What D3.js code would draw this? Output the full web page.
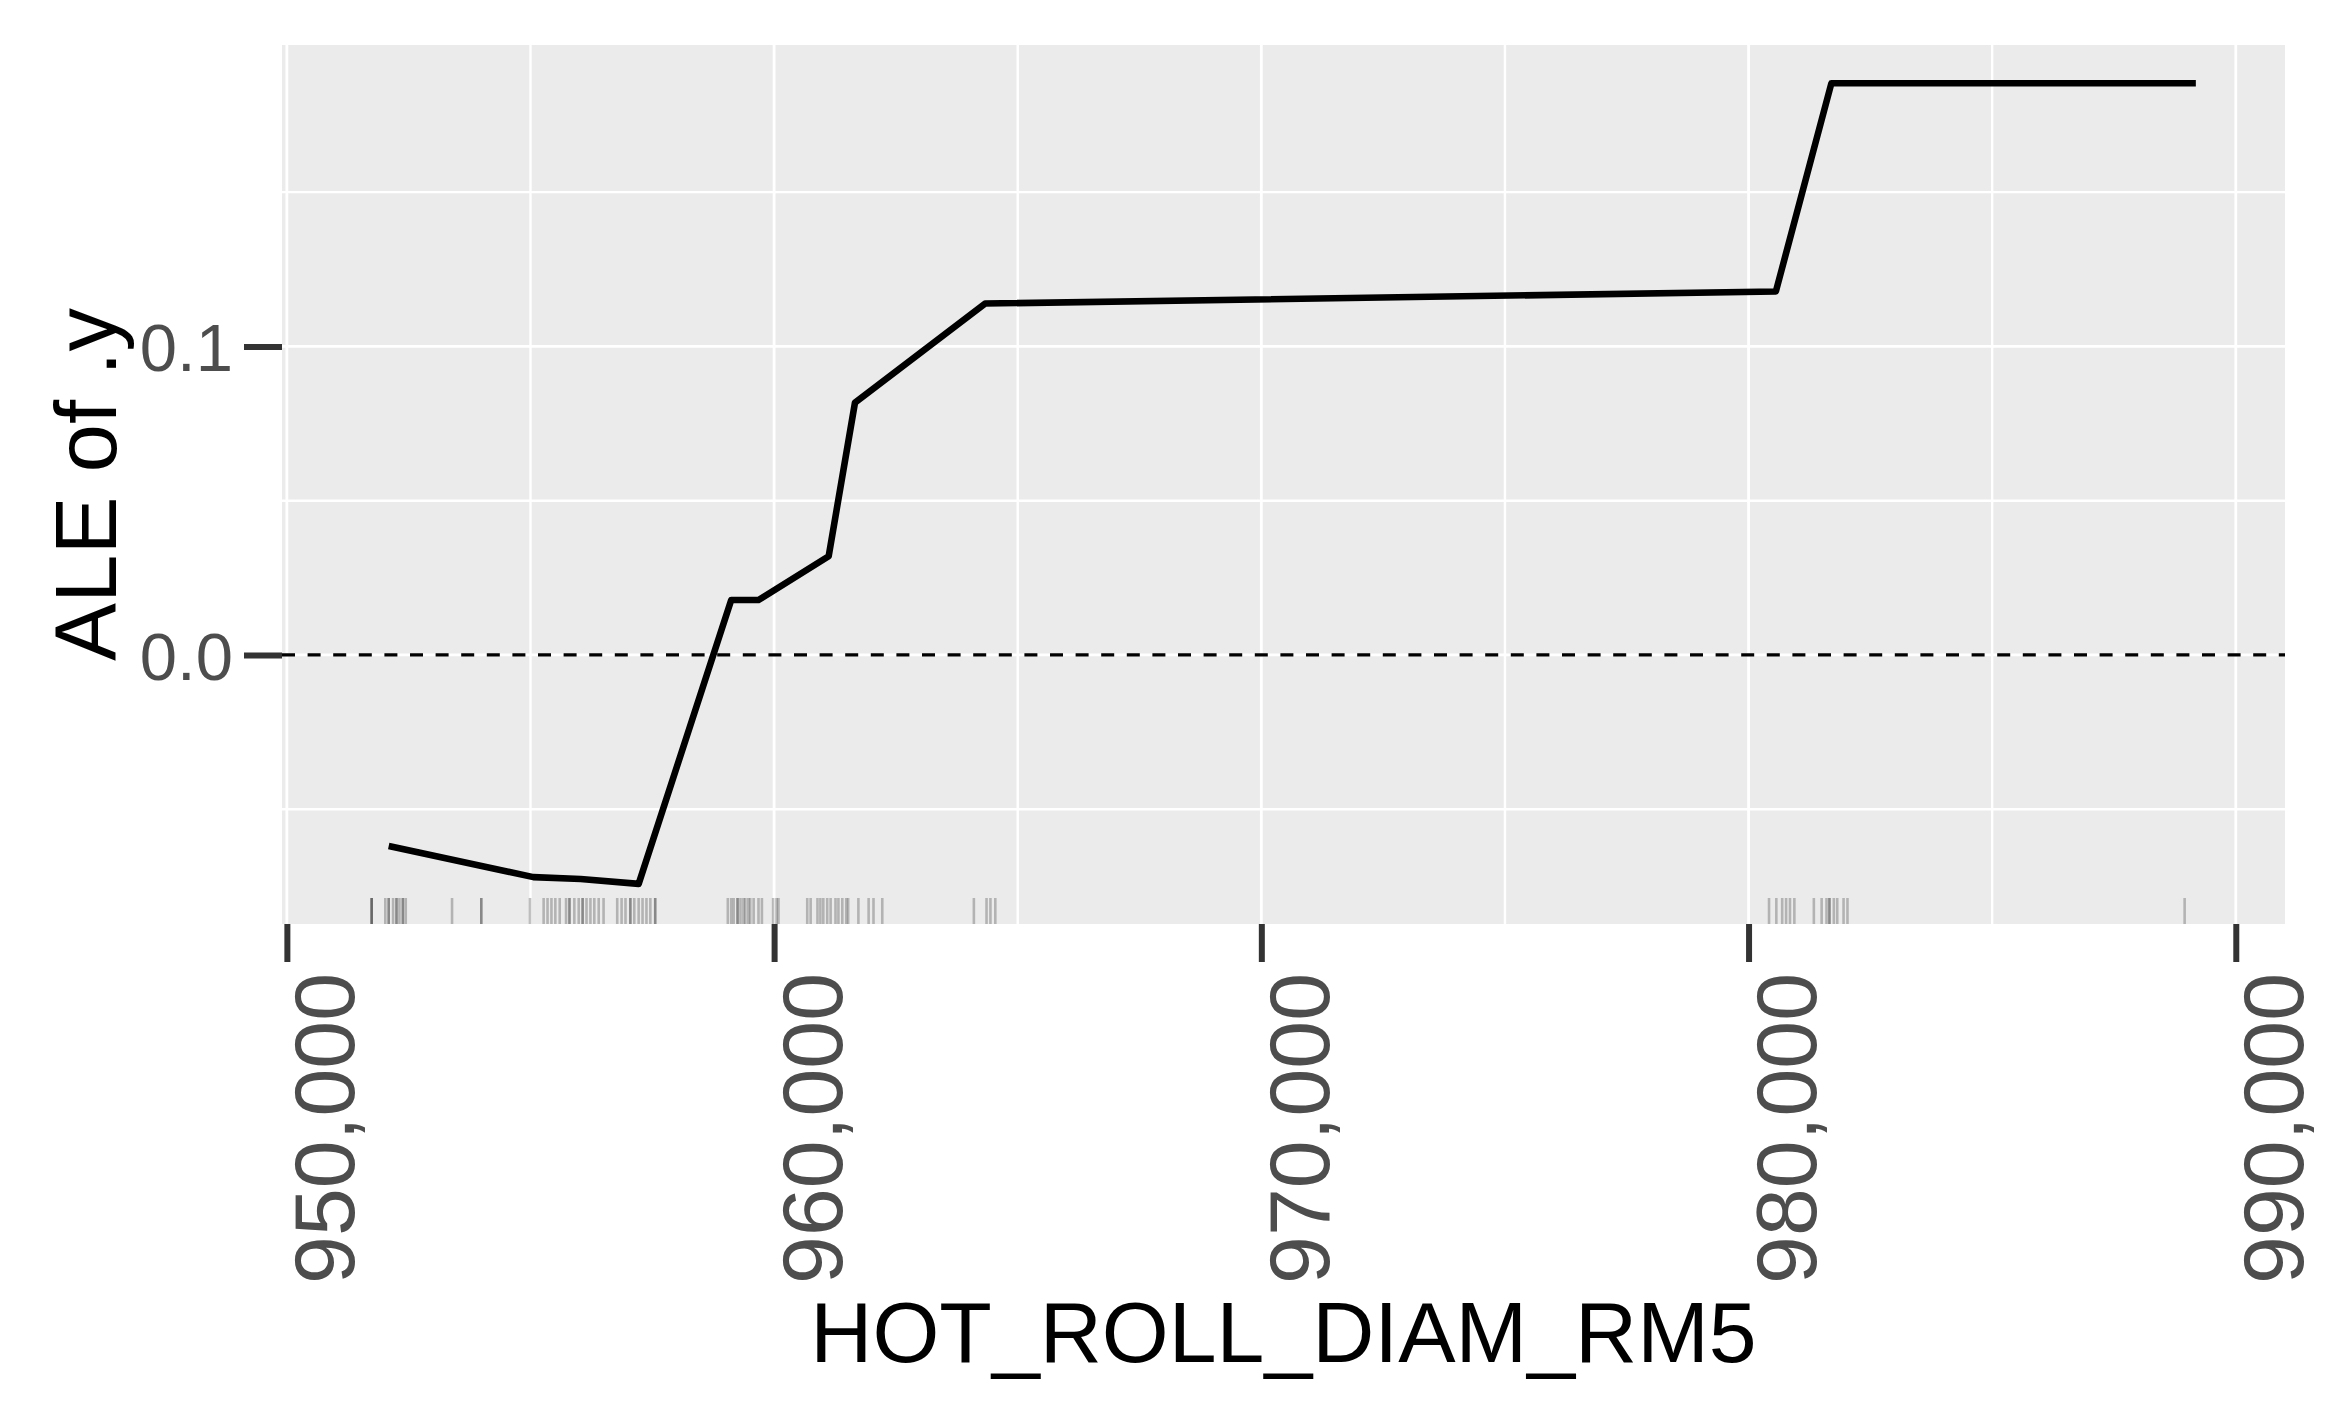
<!DOCTYPE html>
<html>
<head>
<meta charset="utf-8">
<script src="https://cdn.jsdelivr.net/npm/d3@7"></script>
<style>
  body { margin: 0; background: #fff; }
  svg { display: block; font-family: 'Liberation Sans', Arial, sans-serif; }
</style>
</head>
<body>
<div id="chart"></div>
<script>
// ALE curve
const aleX = [952090, 955060, 956030, 957220, 959120, 959680, 961120, 961660, 964330, 980560, 981700, 989180]
const aleY = [-0.0619, -0.0720, -0.0726, -0.0742, 0.0178, 0.0178, 0.0320, 0.0818, 0.1139, 0.1178, 0.1853, 0.1853]

// rug of observed values (repeats = darker marks)
const rugX = [
    951740, 951740, 951740, 952020, 952090, 952090, 952180, 952250, 952250, 952310, 952380, 952380, 952440,
    953390, 953990, 953990, 954990,
    955270, 955350, 955430, 955510, 955600, 955730, 955800, 955800, 955900, 955990, 956070, 956070, 956150, 956230, 956310, 956400, 956500,
    956780, 956870, 956950, 957050, 957050, 957130, 957220, 957300, 957380, 957460, 957560, 957560,
    959050, 959120, 959170, 959250, 959250, 959310, 959370, 959410, 959470, 959510, 959580, 959680, 959750, 959980, 960050, 960090,
    960680, 960750, 960890, 960950, 961010, 961090, 961160, 961260, 961320, 961400, 961480, 961520, 961730, 961940, 962040, 962220,
    964100, 964360, 964440, 964540,
    980420, 980570, 980690, 980770, 980850, 980940, 981340, 981500, 981600, 981660, 981660, 981750, 981820, 981950, 982030,
    988950
]

const xTicks = [950000, 960000, 970000, 980000, 990000]
const xMinor = [955000, 965000, 975000, 985000]
const yTicks = [0.0, 0.1]
const yMinor = [-0.05, 0.05, 0.15]

const xTitle = 'HOT_ROLL_DIAM_RM5'
const yTitle = 'ALE of .y'

const createGraph = () => {
    const width = 2348
    const height = 1423
    const panel = { left: 282, right: 2285, top: 45, bottom: 924 }

    const xScale = d3.scaleLinear().domain([949900, 991010]).range([panel.left, panel.right])
    const yScale = d3.scaleLinear().domain([-0.0872, 0.1977]).range([panel.bottom, panel.top])

    const svg = d3.select('#chart')
        .append('svg')
        .attr('width', width)
        .attr('height', height)

    svg.append('rect')
        .attr('width', width)
        .attr('height', height)
        .attr('fill', '#ffffff')

    svg.append('rect')
        .attr('x', panel.left)
        .attr('y', panel.top)
        .attr('width', panel.right - panel.left)
        .attr('height', panel.bottom - panel.top)
        .attr('fill', '#ebebeb')

    // grid
    const grid = svg.append('g').attr('stroke', '#ffffff')
    grid.selectAll('.vminor')
        .data(xMinor)
        .enter()
        .append('line')
        .attr('x1', (d) => xScale(d))
        .attr('x2', (d) => xScale(d))
        .attr('y1', panel.top)
        .attr('y2', panel.bottom)
        .attr('stroke-width', 2.4)
    grid.selectAll('.hminor')
        .data(yMinor)
        .enter()
        .append('line')
        .attr('x1', panel.left)
        .attr('x2', panel.right)
        .attr('y1', (d) => yScale(d))
        .attr('y2', (d) => yScale(d))
        .attr('stroke-width', 2.4)
    grid.selectAll('.vmajor')
        .data(xTicks)
        .enter()
        .append('line')
        .attr('x1', (d) => xScale(d))
        .attr('x2', (d) => xScale(d))
        .attr('y1', panel.top)
        .attr('y2', panel.bottom)
        .attr('stroke-width', 2.8)
    grid.selectAll('.hmajor')
        .data(yTicks)
        .enter()
        .append('line')
        .attr('x1', panel.left)
        .attr('x2', panel.right)
        .attr('y1', (d) => yScale(d))
        .attr('y2', (d) => yScale(d))
        .attr('stroke-width', 2.8)

    // zero reference line
    svg.append('line')
        .attr('x1', panel.left)
        .attr('x2', panel.right)
        .attr('y1', yScale(0))
        .attr('y2', yScale(0))
        .attr('stroke', '#000000')
        .attr('stroke-width', 3.2)
        .attr('stroke-dasharray', '13,12.6')

    // rug
    svg.append('g')
        .selectAll('line')
        .data(rugX)
        .enter()
        .append('line')
        .attr('x1', (d) => xScale(d))
        .attr('x2', (d) => xScale(d))
        .attr('y1', panel.bottom - 26)
        .attr('y2', panel.bottom)
        .attr('stroke', '#000000')
        .attr('stroke-opacity', 0.24)
        .attr('stroke-width', 2.6)

    // ALE line
    const line = d3.line()
        .x((d, i) => xScale(aleX[i]))
        .y((d) => yScale(d))
    svg.append('path')
        .datum(aleY)
        .attr('d', line)
        .attr('fill', 'none')
        .attr('stroke', '#000000')
        .attr('stroke-width', 6.6)
        .attr('stroke-linejoin', 'round')
        .attr('stroke-linecap', 'butt')

    // x axis
    const xAxis = d3.axisBottom(xScale)
        .tickValues(xTicks)
        .tickSize(38)
        .tickFormat(d3.format(','))
    const gx = svg.append('g')
        .attr('transform', `translate(0, ${panel.bottom})`)
        .call(xAxis)
    gx.select('.domain').remove()
    gx.selectAll('.tick line')
        .attr('stroke', '#333333')
        .attr('stroke-width', 6)
    gx.selectAll('.tick text')
        .attr('fill', '#4d4d4d')
        .attr('font-size', 86)
        .attr('text-anchor', 'end')
        .attr('transform', 'translate(0, 49) rotate(-90)')
        .attr('x', 0)
        .attr('y', 67)
        .attr('dy', null)

    // y axis
    const yAxis = d3.axisLeft(yScale)
        .tickValues(yTicks)
        .tickSize(38)
        .tickFormat(d3.format('.1f'))
    const gy = svg.append('g')
        .attr('transform', `translate(${panel.left}, 0)`)
        .call(yAxis)
    gy.select('.domain').remove()
    gy.selectAll('.tick line')
        .attr('stroke', '#333333')
        .attr('stroke-width', 6)
    gy.selectAll('.tick text')
        .attr('fill', '#4d4d4d')
        .attr('font-size', 67)
        .attr('x', -49)
        .attr('dy', '0.36em')

    // titles
    svg.append('text')
        .attr('x', (panel.left + panel.right) / 2)
        .attr('y', 1362)
        .attr('text-anchor', 'middle')
        .attr('font-size', 86)
        .attr('fill', '#000000')
        .text(xTitle)

    svg.append('text')
        .attr('transform', `translate(116, ${(panel.top + panel.bottom) / 2}) rotate(-90)`)
        .attr('text-anchor', 'middle')
        .attr('font-size', 87)
        .attr('fill', '#000000')
        .text(yTitle)
}

createGraph()
</script>
</body>
</html>
